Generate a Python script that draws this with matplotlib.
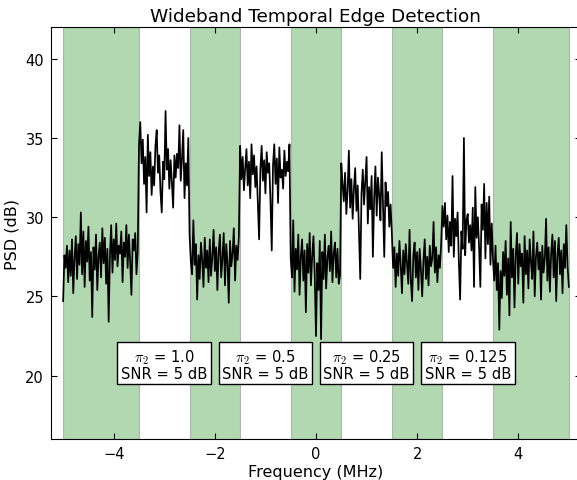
import numpy as np
import matplotlib
matplotlib.use("Agg")
import matplotlib.pyplot as plt

plt.rcParams["mathtext.fontset"] = "cm"
plt.rcParams["font.family"] = ["DejaVu Sans"]

# PSD trace (dB), sampled every 0.025 MHz from -5 to 5 MHz, band by band
psd_idle_1 = [24.7, 27.6, 26.8, 28.2, 25.9, 27.9, 26.3, 28.6, 25.2, 27.4,
              28.8, 26.1, 28.3, 27.0, 30.3, 26.4, 29.1, 25.6, 28.5, 27.2,
              29.4, 26.0, 27.8, 23.7, 28.1, 26.7, 28.9, 25.4, 27.5, 28.4,
              26.2, 29.3, 27.1, 28.7, 25.8, 28.0, 23.4, 27.6, 29.5, 26.5,
              28.6, 27.3, 29.6, 26.9, 28.2, 27.7, 29.1, 25.9, 28.4, 27.5,
              29.5, 26.8, 28.9, 27.2, 25.1, 28.6, 27.9, 29.0, 26.4, 27.8]
psd_busy_1 = [34.6, 36.0, 33.4, 34.9, 32.1, 33.8, 30.3, 35.2, 32.6, 34.1,
              31.4, 33.2, 32.0, 34.5, 35.5, 32.8, 33.9, 31.6, 30.3, 33.5,
              32.4, 36.7, 33.0, 34.3, 31.8, 33.6, 32.2, 30.6, 33.9, 32.5,
              34.0, 33.1, 35.8, 32.3, 33.7, 35.5, 31.2, 33.4, 32.0, 35.0]
psd_idle_2 = [28.9, 27.2, 26.4, 29.8, 27.0, 28.3, 24.8, 27.6, 26.1, 28.4,
              27.3, 25.6, 28.7, 26.8, 27.9, 25.9, 28.6, 26.3, 27.5, 29.2,
              26.6, 28.1, 25.4, 27.8, 28.9, 26.2, 27.4, 29.0, 25.7, 28.3,
              27.1, 24.6, 28.5, 26.9, 27.7, 29.3, 26.0, 28.2, 27.3, 28.8]
psd_busy_2 = [34.5, 32.4, 33.8, 31.7, 33.1, 34.3, 32.0, 33.5, 31.2, 34.6,
              32.7, 33.9, 31.9, 33.2, 30.8, 28.6, 33.0, 34.5, 32.3, 33.6,
              31.5, 34.1, 32.8, 33.4, 31.0, 27.9, 33.3, 34.6, 32.1, 33.7,
              30.9, 34.4, 32.5, 33.0, 31.8, 34.2, 32.6, 33.5, 32.9, 34.6]
psd_idle_3 = [27.4, 26.2, 29.8, 25.3, 28.0, 26.7, 28.9, 25.1, 27.5, 28.6,
              26.0, 27.9, 24.0, 28.3, 26.5, 29.0, 25.7, 27.6, 28.8, 26.3,
              22.5, 27.1, 25.4, 28.5, 22.3, 27.8, 26.1, 28.9, 25.5, 27.4,
              28.2, 26.6, 29.1, 25.9, 27.7, 28.4, 26.2, 28.0, 25.8, 26.3]
psd_busy_3 = [33.4, 32.1, 31.0, 32.8, 30.2, 31.7, 34.2, 30.6, 32.4, 29.9,
              31.8, 33.1, 30.4, 32.0, 29.1, 26.1, 31.5, 33.0, 30.8, 32.3,
              33.8, 29.6, 31.9, 30.5, 32.6, 27.5, 31.2, 33.2, 30.1, 32.5,
              31.4, 29.8, 34.1, 30.9, 27.5, 32.2, 30.7, 31.6, 29.4, 30.8]
psd_idle_4 = [29.0, 26.8, 28.1, 25.6, 27.7, 26.3, 28.5, 27.0, 25.2, 27.9,
              26.4, 28.3, 27.1, 25.8, 29.2, 26.0, 24.7, 27.6, 28.4, 26.2,
              27.8, 25.4, 28.0, 26.7, 25.0, 27.3, 28.6, 26.1, 27.5, 25.7,
              28.2, 26.9, 27.4, 29.7, 26.5, 28.1, 25.9, 27.6, 26.8, 28.3]
psd_busy_4 = [30.7, 29.4, 30.9, 28.6, 30.1, 27.8, 29.7, 28.2, 32.6, 27.5,
              29.9, 28.8, 30.3, 27.2, 24.8, 29.1, 28.0, 35.0, 27.6, 29.8,
              30.2, 28.4, 29.5, 27.9, 30.6, 25.6, 31.9, 28.7, 30.0, 28.1,
              25.6, 30.8, 29.2, 32.1, 27.4, 30.9, 28.3, 31.3, 27.0, 29.6]
psd_idle_5 = [27.3, 26.0, 28.2, 25.4, 27.1, 22.9, 26.6, 24.9, 27.8, 26.3,
              28.5, 25.1, 27.4, 23.8, 29.7, 26.2, 28.0, 24.3, 27.6, 29.0,
              25.8, 28.3, 26.9, 27.7, 24.6, 28.8, 26.4, 27.9, 25.5, 28.6,
              27.2, 26.1, 29.1, 25.0, 27.5, 28.4, 26.7, 27.8, 24.8, 28.2,
              26.5, 27.4, 29.9, 26.0, 28.1, 25.3, 27.7, 28.9, 26.2, 28.5,
              24.7, 27.6, 28.7, 26.4, 27.9, 25.2, 28.3, 26.8, 29.5, 26.9,
              25.6]

psd_db = np.concatenate([psd_idle_1, psd_busy_1, psd_idle_2, psd_busy_2,
                         psd_idle_3, psd_busy_3, psd_idle_4, psd_busy_4,
                         psd_idle_5])
freq_mhz = np.linspace(-5.0, 5.0, len(psd_db))

# unoccupied sub-bands (MHz)
idle_bands = [(-5.0, -3.5), (-2.5, -1.5), (-0.5, 0.5), (1.5, 2.5), (3.5, 5.0)]

# occupied sub-band annotations
label_centers = [-3.0, -1.0, 1.0, 3.0]
pi2_values = ["1.0", "0.5", "0.25", "0.125"]
snr_db = [5, 5, 5, 5]

fig = plt.figure(figsize=(5.77, 4.81), dpi=100)
ax = fig.add_axes([0.0884, 0.0852, 0.9185, 0.8565])

for lo, hi in idle_bands:
    ax.axvspan(lo, hi, facecolor=(0.0, 0.5, 0.0, 0.3),
               edgecolor=(0.55, 0.6, 0.55, 0.6), linewidth=0.8)

ax.plot(freq_mhz, psd_db, color="black", linewidth=1.25)

for xc, p, s in zip(label_centers, pi2_values, snr_db):
    ax.text(xc, 20.75, r"$\pi_2$ = " + p + "\nSNR = %d dB" % s,
            ha="center", va="center", fontsize=10.6, linespacing=1.0,
            bbox=dict(boxstyle="square,pad=0.25", facecolor="white",
                      edgecolor="black", linewidth=1.0))

ax.set_xlim(-5.24, 5.24)
ax.set_ylim(16, 42)
ax.set_xticks([-4, -2, 0, 2, 4])
ax.set_yticks([20, 25, 30, 35, 40])
ax.set_xticklabels(["\u22124", "\u22122", "0", "2", "4"])
ax.tick_params(direction="in", length=4, top=True, right=True,
               labelsize=10.5, pad=5)
ax.set_xlabel("Frequency (MHz)", fontsize=11.5, labelpad=2)
ax.set_ylabel("PSD (dB)", fontsize=11.5, labelpad=4)
ax.set_title("Wideband Temporal Edge Detection", fontsize=13.3, pad=4)

fig.savefig("out.png", dpi=100)
